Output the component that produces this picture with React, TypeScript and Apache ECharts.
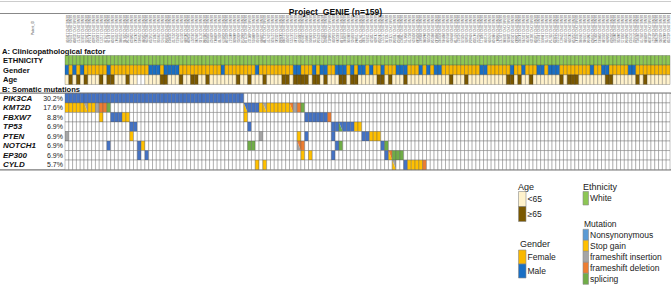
import React, { useEffect, useRef } from "react";
import * as echarts from "echarts";

const FONT = "'Liberation Sans', Arial, sans-serif";
const TITLE = "Project_GENIE (n=159)";
const N_PATIENTS = 159;

// patient id tick labels (illegible in the reference; placeholder ids)
const patientIds: string[] = Array.from({ length: N_PATIENTS }, (_, i) =>
  `GENIE-DFCI-${String(100000 + ((i * 7919) % 899999)).padStart(6, "0")}`
);

const clinicalRows = ["ETHNICITY", "Gender", "Age"];
const genes = ["PIK3CA", "KMT2D", "FBXW7", "TP53", "PTEN", "NOTCH1", "EP300", "CYLD"];
const genePct = ["30.2%", "17.6%", "8.8%", "6.9%", "6.9%", "6.9%", "6.9%", "5.7%"];

// clinical annotations (column indices)
const maleCols = [0, 2, 4, 11, 22, 23, 24, 26, 27, 28, 29, 41, 50, 60, 61, 65, 67, 68, 71, 72, 73, 75, 77, 78, 80, 83, 87, 88, 89, 93, 95, 97, 98, 109, 110, 117, 120, 124, 125, 127, 128, 129, 138, 141, 142, 148, 149];
const oldCols = [1, 3, 5, 9, 11, 12, 16, 25, 26, 30, 33, 34, 37, 45, 48, 52, 57, 58, 60, 61, 62, 63, 65, 66, 68, 72, 73, 75, 76, 82, 83, 85, 89, 101, 105, 116, 117, 119, 122, 130, 132, 133, 134, 142, 143, 150, 152];
const ageNaCols = [19, 20];

// mutation runs: [startCol, endCol, type, secondType?]
// N nonsynonymous, S stop gain, I fs insertion, D fs deletion, P splicing
const pik3ca = [[0, 46, "N"]];
const kmt2d = [[0, 4, "S"], [5, 5, "S", "I"], [6, 7, "S"], [8, 8, "I"], [9, 10, "D"], [11, 11, "P"], [47, 47, "S", "N"], [48, 50, "N"], [51, 51, "S"], [52, 52, "S", "I"], [53, 58, "S"], [59, 59, "S", "D"], [60, 60, "I"], [61, 61, "D"], [62, 62, "P"]];
const fbxw7 = [[9, 9, "S"], [12, 14, "N"], [15, 16, "S"], [47, 47, "S"], [63, 68, "N"], [69, 69, "D"]];
const tp53 = [[17, 18, "N"], [48, 48, "N"], [70, 71, "N"], [72, 72, "P", "N"], [73, 75, "N"], [76, 77, "S"]];
const pten = [[0, 0, "I"], [17, 17, "S"], [51, 51, "I"], [61, 61, "S"], [63, 63, "N"], [70, 70, "N"], [78, 79, "N"], [80, 82, "S"]];
const notch1 = [[11, 11, "N"], [19, 19, "N"], [20, 20, "S"], [48, 49, "P"], [61, 61, "I", "D"], [62, 62, "D"], [71, 71, "N"], [72, 72, "P"], [83, 83, "N"], [84, 84, "P"]];
const ep300 = [[19, 19, "N"], [21, 21, "N"], [62, 62, "S"], [64, 64, "S"], [70, 70, "N"], [84, 84, "N"], [85, 85, "S", "D"], [86, 88, "P"]];
const cyld = [[50, 50, "S"], [52, 52, "S"], [86, 86, "S", "I"], [89, 89, "N"], [90, 93, "S"], [94, 94, "D"]];
const geneRuns: any[][] = [pik3ca, kmt2d, fbxw7, tp53, pten, notch1, ep300, cyld];

const mutColors: Record<string, string> = { N: "#4472c4", S: "#ffc000", I: "#a5a5a5", D: "#ed7d31", P: "#70ad47" };
const ethnicityColor = "#8dc654";
const femaleColor = "#f9b800";
const maleColor = "#1a6fc4";
const youngColor = "#fff2cc";
const oldColor = "#7a5800";

const legendAge = ["<65", "≥65"];
const legendGender = ["Female", "Male"];
const legendEthnicity = ["White"];
const legendMutation = ["Nonsynonymous", "Stop gain", "frameshift insertion", "frameshift deletion", "splicing"];
const legendMutationColors = ["#5b9bd5", "#ffc000", "#a5a5a5", "#ed7d31", "#70ad47"];

type Cell = { x: number; y: number; c1: string; c2?: string };

function buildClinical(): Cell[] {
  const cells: Cell[] = [];
  for (let i = 0; i < N_PATIENTS; i++) {
    cells.push({ x: i, y: 0, c1: ethnicityColor });
    cells.push({ x: i, y: 1, c1: maleCols.includes(i) ? maleColor : femaleColor });
    const ac = ageNaCols.includes(i) ? "#ffffff" : oldCols.includes(i) ? oldColor : youngColor;
    cells.push({ x: i, y: 2, c1: ac });
  }
  return cells;
}

function buildMutations(): Cell[] {
  const cells: Cell[] = [];
  geneRuns.forEach((runs, g) => {
    const row: Cell[] = [];
    for (let i = 0; i < N_PATIENTS; i++) row.push({ x: i, y: g, c1: "#ffffff" });
    runs.forEach((r) => {
      for (let c = r[0]; c <= r[1]; c++) {
        row[c] = { x: c, y: g, c1: mutColors[r[2]], c2: r[3] ? mutColors[r[3]] : undefined };
      }
    });
    cells.push(...row);
  });
  return cells;
}

function makeRender(cells: Cell[], stroke: string, lw: number) {
  return (params: any, api: any) => {
    const cell = cells[params.dataIndex];
    const p = api.coord([api.value(0), api.value(1)]);
    const s = api.size([1, 1]);
    const x0 = p[0] - s[0] / 2;
    const y0 = p[1] - s[1] / 2;
    const w = s[0];
    const h = s[1];
    if (cell.c2) {
      return {
        type: "group",
        children: [
          { type: "polygon", shape: { points: [[x0, y0], [x0, y0 + h], [x0 + w, y0 + h]] }, style: { fill: cell.c1 } },
          { type: "polygon", shape: { points: [[x0, y0], [x0 + w, y0], [x0 + w, y0 + h]] }, style: { fill: cell.c2 } },
          { type: "rect", shape: { x: x0, y: y0, width: w, height: h }, style: { fill: "none", stroke, lineWidth: lw } },
        ],
      };
    }
    return { type: "rect", shape: { x: x0, y: y0, width: w, height: h }, style: { fill: cell.c1, stroke, lineWidth: lw } };
  };
}

function legendGraphics(): any[] {
  const g: any[] = [];
  const txt = (text: string, x: number, y: number, size = 8.5) => ({
    type: "text", x, y, style: { text, fill: "#222", font: `${size}px ${FONT}`, verticalAlign: "middle" },
  });
  const sw = (x: number, y: number, w: number, h: number, fill: string) => ({
    type: "rect", shape: { x, y, width: w, height: h }, style: { fill, stroke: "#8a8a8a", lineWidth: 0.6 },
  });
  // Age
  g.push(txt("Age", 518, 187, 9));
  [youngColor, oldColor].forEach((c, k) => {
    g.push(sw(518.5, 191.5 + k * 15, 7.5, 15, c));
    g.push(txt(legendAge[k], 527.5, 199 + k * 15));
  });
  // Ethnicity
  g.push(txt("Ethnicity", 583, 186.5, 9));
  g.push(sw(583, 191.5, 5.5, 13.5, ethnicityColor));
  g.push(txt(legendEthnicity[0], 590, 198));
  // Mutation
  g.push(txt("Mutation", 584, 224, 8.5));
  legendMutation.forEach((l, k) => {
    g.push(sw(583, 229.3 + k * 11, 5.5, 11, legendMutationColors[k]));
    g.push(txt(l, 590, 234.8 + k * 11));
  });
  // Gender
  g.push(txt("Gender", 520, 243.7, 9));
  [femaleColor, maleColor].forEach((c, k) => {
    g.push(sw(518.5, 250 + k * 14, 7.5, 14, c));
    g.push(txt(legendGender[k], 527.5, 257 + k * 14));
  });
  return g;
}

export default function App() {
  const ref = useRef<HTMLDivElement>(null);
  useEffect(() => {
    if (!ref.current) return;
    const chart = echarts.init(ref.current, undefined, { renderer: "svg" });
    const clinical = buildClinical();
    const muts = buildMutations();
    const option: any = {
      animation: false,
      backgroundColor: "#ffffff",
      textStyle: { fontFamily: FONT },
      title: {
        text: TITLE, left: "center", top: 2,
        textStyle: { fontFamily: FONT, fontSize: 8.6, fontWeight: "bold", color: "#111" },
      },
      grid: [
        { left: 65, top: 55.5, width: 605, height: 29 },
        { left: 65, top: 93.4, width: 605, height: 76.2 },
      ],
      xAxis: [
        {
          type: "category", gridIndex: 0, data: patientIds, position: "top",
          axisLine: { show: false }, axisTick: { show: false }, splitLine: { show: false },
          axisLabel: { interval: 0, rotate: 90, fontSize: 3, color: "#555", margin: 12.5, fontFamily: FONT },
        },
        { type: "category", gridIndex: 1, data: patientIds, show: false },
      ],
      yAxis: [
        {
          type: "category", gridIndex: 0, data: clinicalRows, inverse: true,
          axisLine: { show: false }, axisTick: { show: false }, splitLine: { show: false },
          axisLabel: { interval: 0, align: "left", margin: 62, fontSize: 7.6, fontWeight: "bold", color: "#111", fontFamily: FONT },
        },
        {
          type: "category", gridIndex: 1, data: genes, inverse: true,
          axisLine: { show: false }, axisTick: { show: false }, splitLine: { show: false },
          axisLabel: {
            interval: 0, align: "left", margin: 62,
            formatter: (v: string, i: number) => `{g|${v}}{p|${genePct[i]}}`,
            rich: {
              g: { width: 42, align: "left", fontSize: 8, fontWeight: "bold", fontStyle: "italic", color: "#111", fontFamily: FONT },
              p: { width: 18, align: "right", fontSize: 7, color: "#222", fontFamily: FONT },
            },
          },
        },
      ],
      series: [
        {
          type: "custom", xAxisIndex: 0, yAxisIndex: 0,
          data: clinical.map((c) => [c.x, c.y]),
          renderItem: makeRender(clinical, "rgba(50,50,50,0.45)", 0.6),
        },
        {
          type: "custom", xAxisIndex: 1, yAxisIndex: 1,
          data: muts.map((c) => [c.x, c.y]),
          renderItem: makeRender(muts, "rgba(90,90,90,0.6)", 0.6),
        },
      ],
      graphic: [
        { type: "line", shape: { x1: 0, y1: 1.5, x2: 671, y2: 1.5 }, style: { stroke: "#cccccc", lineWidth: 1 } },
        { type: "line", shape: { x1: 0, y1: 13.5, x2: 671, y2: 13.5 }, style: { stroke: "#888888", lineWidth: 1 } },
        { type: "line", shape: { x1: 0, y1: 93.2, x2: 671, y2: 93.2 }, style: { stroke: "#7a7a7a", lineWidth: 1.2 } },
        { type: "line", shape: { x1: 0, y1: 169.8, x2: 671, y2: 169.8 }, style: { stroke: "#7a7a7a", lineWidth: 1.2 } },
        {
          type: "text", x: 33, y: 28, rotation: Math.PI / 2,
          style: { text: "Patient_ID", fill: "#555", font: `3px ${FONT}`, align: "center", verticalAlign: "middle" },
        },
        {
          type: "text", x: 2, y: 51.5,
          style: { text: "A: Clinicopathological factor", fill: "#111", font: `bold 7.6px ${FONT}`, verticalAlign: "middle" },
        },
        {
          type: "text", x: 2, y: 89.6,
          style: { text: "B: Somatic mutations", fill: "#111", font: `bold 7.6px ${FONT}`, verticalAlign: "middle" },
        },
        ...legendGraphics(),
      ],
    };
    chart.setOption(option);
    return () => chart.dispose();
  }, []);
  return <div ref={ref} style={{ position: "absolute", left: 0, top: 0, width: 671, height: 287 }} />;
}
